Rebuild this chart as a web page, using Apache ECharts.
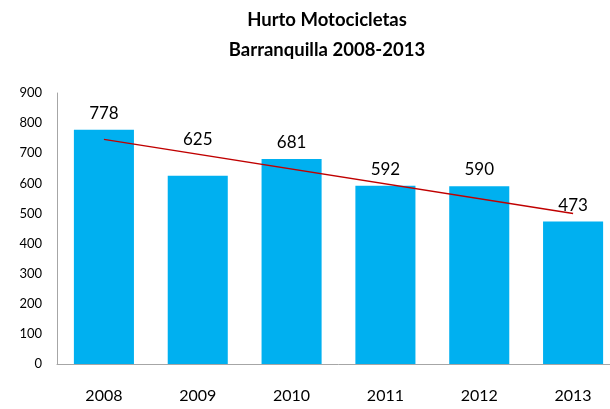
<!DOCTYPE html>
<html>
<head>
<meta charset="utf-8">
<script src="https://cdn.jsdelivr.net/npm/echarts@6/dist/echarts.min.js"></script>
<style>
html,body{margin:0;padding:0;background:#fff;overflow:hidden;}
#chart{width:620px;height:409px;}
</style>
</head>
<body>
<div id="chart"></div>
<script>
const categories = ['2008', '2009', '2010', '2011', '2012', '2013'];
const robos = [778, 625, 681, 592, 590, 473];
const trendValues = [746, null, null, null, null, 500];
const yTicks = [0, 900, 100];
const titleLines = ['Hurto Motocicletas', 'Barranquilla 2008-2013'];

const chart = echarts.init(document.getElementById('chart'), null, {renderer: 'canvas'});
const FONT = 'Lato';
// the 2009 label sits higher, above the trend line
const barData = robos.map((v, i) => i === 1 ? {value: v, label: {offset: [0, -20]}} : v);
chart.setOption({
  animation: false,
  backgroundColor: '#ffffff',
  title: {
    text: titleLines.join('\n'),
    left: 322,
    top: 0,
    textAlign: 'center',
    textStyle: {fontFamily: FONT, fontWeight: 'bold', fontSize: 18.5, color: '#000', lineHeight: 30}
  },
  grid: {left: 57, right: 0, top: 93, bottom: 45, containLabel: false},
  xAxis: {
    type: 'category',
    data: categories,
    axisLine: {show: true, lineStyle: {color: '#a6a6a6', width: 1}},
    axisTick: {show: false},
    axisLabel: {fontFamily: FONT, fontSize: 16, color: '#000', margin: 24}
  },
  yAxis: {
    type: 'value',
    min: yTicks[0], max: yTicks[1], interval: yTicks[2],
    axisLine: {show: true, lineStyle: {color: '#a6a6a6', width: 1}},
    axisTick: {show: false},
    splitLine: {show: false},
    axisLabel: {fontFamily: FONT, fontSize: 13, color: '#000', margin: 15}
  },
  series: [
    {
      type: 'bar',
      data: barData,
      barWidth: '64%',
      itemStyle: {color: '#00B0F0'},
      label: {show: true, position: 'top', distance: 8, fontFamily: FONT, fontSize: 17, color: '#000'}
    },
    {
      type: 'line',
      data: trendValues,
      connectNulls: true,
      symbol: 'none',
      lineStyle: {color: '#C00000', width: 1.5},
      z: 5
    }
  ]
});
</script>
</body>
</html>
